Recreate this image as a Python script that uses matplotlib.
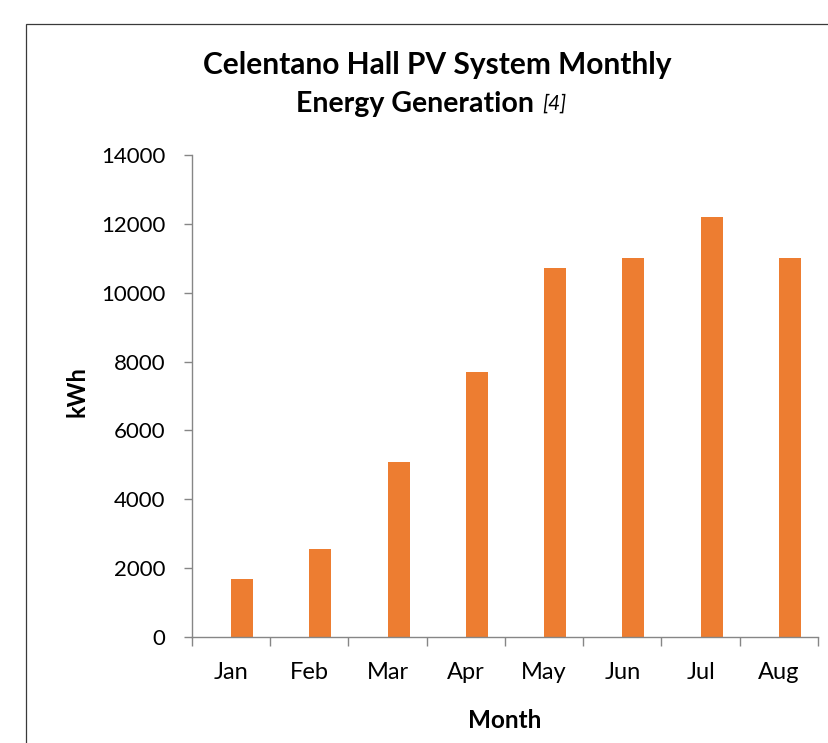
import matplotlib
matplotlib.use("Agg")
import matplotlib.pyplot as plt
from matplotlib.patches import Rectangle
import numpy as np

months = ["Jan", "Feb", "Mar", "Apr", "May", "Jun", "Jul", "Aug"]
energy_kwh = [1690, 2560, 5075, 7700, 10720, 11000, 12200, 11000]
y_ticks = [0, 2000, 4000, 6000, 8000, 10000, 12000, 14000]

BAR_COLOR = "#ED7D31"
AXIS_COLOR = "#868686"


def main() -> None:
    plt.rcParams["font.family"] = ["Lato", "DejaVu Sans"]

    fig = plt.figure(figsize=(8.29, 7.43), dpi=100)
    ax = fig.add_axes([192 / 829, 1 - 637 / 743, 626 / 829, 482 / 743])

    # outer chart border (right and bottom edges fall outside the image)
    fig.patches.append(Rectangle((26 / 829, -0.1), 1.2, 1 - 24 / 743 + 0.1,
                                 transform=fig.transFigure, fill=False,
                                 edgecolor="#3a3a3a", linewidth=0.9))

    x = np.arange(len(months))
    ax.bar(x + 0.14, energy_kwh, width=0.28, color=BAR_COLOR)

    ax.set_xlim(-0.5, len(months) - 0.5)
    ax.set_ylim(0, 14000)
    ax.set_yticks(y_ticks)
    ax.set_yticklabels([str(v) for v in y_ticks])

    ax.set_xticks(np.arange(len(months) + 1) - 0.5)
    ax.set_xticklabels([])
    ax.set_xticks(x, minor=True)
    ax.set_xticklabels(months, minor=True)

    for side in ["top", "right"]:
        ax.spines[side].set_visible(False)
    for side in ["left", "bottom"]:
        ax.spines[side].set_color(AXIS_COLOR)
        ax.spines[side].set_linewidth(1.0)

    ax.tick_params(axis="y", which="major", direction="out", length=6,
                   width=1.0, color=AXIS_COLOR, pad=13, labelsize=16)
    ax.tick_params(axis="x", which="major", direction="out", length=6.5,
                   width=1.0, color=AXIS_COLOR)
    ax.tick_params(axis="x", which="minor", length=0, pad=18, labelsize=17)

    fig.text(0.527, 1 - 65 / 743, "Celentano Hall PV System Monthly",
             ha="center", va="center", fontsize=21.5, fontweight="bold")
    t2 = fig.text(534 / 829, 1 - 104 / 743, "Energy Generation",
                  ha="right", va="center", fontsize=20.5, fontweight="bold")
    ax.annotate("[4]", xy=(1, 0.5), xycoords=t2, xytext=(6, 0),
                textcoords="offset points", ha="left", va="center",
                fontsize=15, fontstyle="italic")

    fig.text(77 / 829, 1 - 392 / 743, "kWh", rotation=90, ha="center",
             va="center", fontsize=17, fontweight="bold")
    fig.text(505 / 829, 1 - 720 / 743, "Month", ha="center", va="center",
             fontsize=17.5, fontweight="bold")

    fig.savefig("out.png", dpi=100)
    plt.close(fig)


if __name__ == "__main__":
    main()
